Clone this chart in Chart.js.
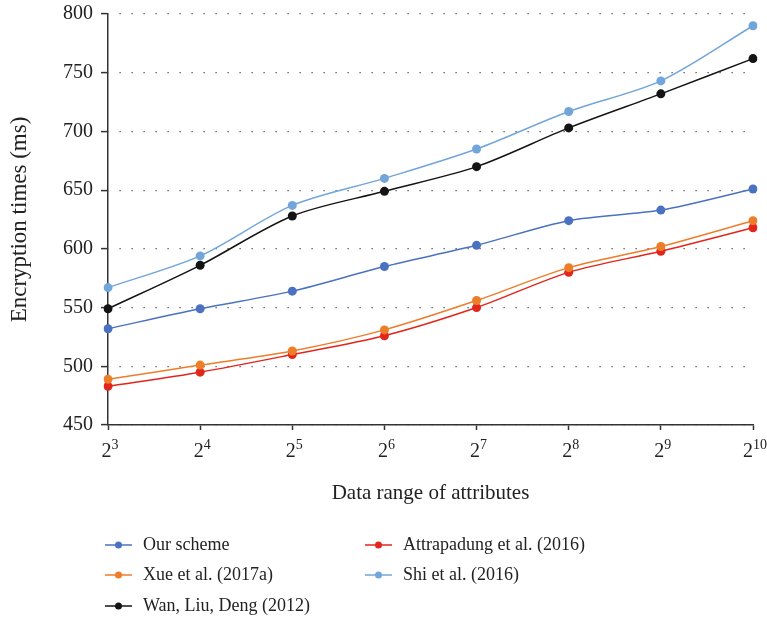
<!DOCTYPE html>
<html>
<head>
<meta charset="utf-8">
<script src="https://cdn.jsdelivr.net/npm/chart.js@4"></script>
<style>
  html, body { margin: 0; padding: 0; background: #fff; }
  #wrap { width: 767px; height: 621px; }
</style>
</head>
<body>
<div id="wrap"><canvas id="encChart" width="767" height="621"></canvas></div>
<script>
// x categories: 2^3 .. 2^10
const categories = ["2^3", "2^4", "2^5", "2^6", "2^7", "2^8", "2^9", "2^10"];
const yTicks = [450, 500, 550, 600, 650, 700, 750, 800];

const ourScheme = [532, 549, 564, 585, 603, 624, 633, 651];
const xue = [489, 501, 513, 531, 556, 584, 602, 624];
const wan = [549, 586, 628, 649, 670, 703, 732, 762];
const attrapadung = [483, 495, 510, 526, 550, 580, 598, 618];
const shi = [567, 594, 637, 660, 685, 717, 743, 790];

const serif = "'Liberation Serif', 'DejaVu Serif', serif";

function series(label, data, color) {
  return {
    label: label,
    data: data,
    borderColor: color,
    backgroundColor: color,
    borderWidth: 1.5,
    pointRadius: 4.5,
    pointBorderWidth: 0,
    tension: 0.3,
  };
}

// powers of two labels with superscript exponent
const powerLabels = {
  id: "powerLabels",
  afterDraw(chart) {
    const ctx = chart.ctx;
    const xs = chart.scales.x;
    ctx.save();
    ctx.fillStyle = "#222";
    ctx.textBaseline = "alphabetic";
    categories.forEach((c, i) => {
      const parts = c.split("^");
      const x = xs.getPixelForTick(i);
      ctx.font = "20px " + serif;
      const bw = ctx.measureText(parts[0]).width;
      ctx.font = "14px " + serif;
      const ew = ctx.measureText(parts[1]).width;
      const start = x - (bw + ew) / 2 + 2;
      ctx.font = "20px " + serif;
      ctx.textAlign = "left";
      ctx.fillText(parts[0], start, 457);
      ctx.font = "14px " + serif;
      ctx.fillText(parts[1], start + bw, 449);
    });
    ctx.restore();
  },
};

// two-column legend under the chart
const colLegend = {
  id: "colLegend",
  afterDraw(chart) {
    const ctx = chart.ctx;
    const slots = [
      [105, 545], [105, 575], [105, 606],
      [365, 545], [365, 575],
    ];
    ctx.save();
    ctx.font = "18px " + serif;
    ctx.textBaseline = "middle";
    ctx.textAlign = "left";
    chart.data.datasets.forEach((ds, i) => {
      const [lx, ly] = slots[i];
      ctx.strokeStyle = ds.borderColor;
      ctx.lineWidth = 1.5;
      ctx.beginPath();
      ctx.moveTo(lx, ly);
      ctx.lineTo(lx + 27, ly);
      ctx.stroke();
      ctx.fillStyle = ds.borderColor;
      ctx.beginPath();
      ctx.arc(lx + 13.5, ly, 3.5, 0, Math.PI * 2);
      ctx.fill();
      ctx.fillStyle = "#222";
      ctx.fillText(ds.label, lx + 38, ly);
    });
    ctx.restore();
  },
};

const encChart = document.getElementById("encChart");

new Chart(encChart, {
  type: "line",
  data: {
    labels: categories,
    datasets: [
      series("Our scheme", ourScheme, "#4a72c0"),
      series("Xue et al. (2017a)", xue, "#ee7d2a"),
      series("Wan, Liu, Deng (2012)", wan, "#141414"),
      series("Attrapadung et al. (2016)", attrapadung, "#e2261c"),
      series("Shi et al. (2016)", shi, "#72a6da"),
    ],
  },
  options: {
    responsive: false,
    animation: false,
    layout: {
      padding: { top: 14, right: 14, bottom: 0, left: 0 },
    },
    plugins: {
      legend: { display: false },
      tooltip: { enabled: false },
    },
    scales: {
      x: {
        offset: false,
        afterFit(scale) {
          scale.height = 621 - 425;
          scale.paddingLeft = 0;
          scale.paddingRight = 0;
        },
        grid: {
          drawOnChartArea: false,
          drawTicks: true,
          tickLength: 5,
          tickColor: "#333",
          tickWidth: 1.5,
        },
        border: { display: true, color: "#333", width: 1.5 },
        ticks: { display: false },
        title: {
          display: true,
          text: "Data range of attributes",
          color: "#222",
          font: { family: serif, size: 21 },
          padding: { top: 0, bottom: 115 },
        },
      },
      y: {
        min: 450,
        max: 800,
        afterFit(scale) {
          scale.width = 108;
          scale.paddingTop = 0;
          scale.paddingBottom = 0;
        },
        afterBuildTicks(scale) {
          scale.ticks = yTicks.map((v) => ({ value: v }));
        },
        grid: {
          color: "#444",
          lineWidth: 1.2,
          drawTicks: true,
          tickLength: 7,
          tickColor: "#333",
          tickWidth: 1.5,
          tickBorderDash: [],
        },
        border: {
          display: true,
          color: "#333",
          width: 1.5,
          dash: [1.2, 10.8],
          dashOffset: -11,
        },
        ticks: {
          color: "#222",
          padding: 8,
          font: { family: serif, size: 20 },
        },
        title: {
          display: true,
          text: "Encryption times (ms)",
          color: "#222",
          font: { family: serif, size: 23 },
          padding: { top: 6, bottom: 0 },
        },
      },
    },
  },
  plugins: [powerLabels, colLegend],
});
</script>
</body>
</html>
